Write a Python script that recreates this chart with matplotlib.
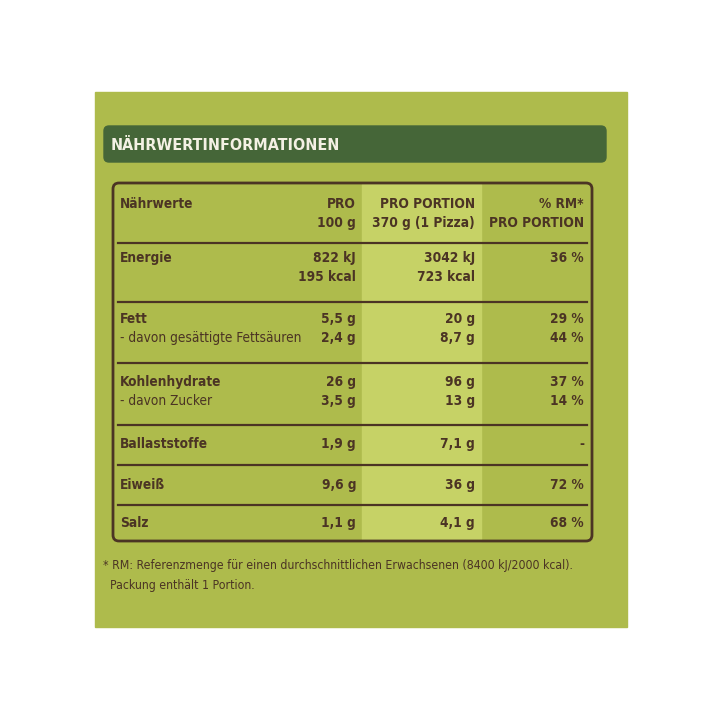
import matplotlib
matplotlib.use("Agg")
import matplotlib.pyplot as plt
from matplotlib.patches import Rectangle, FancyBboxPatch

labels = [["Nährwerte"], ["Energie"], ["Fett", "- davon gesättigte Fettsäuren"],
          ["Kohlenhydrate", "- davon Zucker"], ["Ballaststoffe"], ["Eiweiß"], ["Salz"]]
col100 = [["PRO", "100 g"], ["822 kJ", "195 kcal"], ["5,5 g", "2,4 g"], ["26 g", "3,5 g"],
          ["1,9 g"], ["9,6 g"], ["1,1 g"]]
colPortion = [["PRO PORTION", "370 g (1 Pizza)"], ["3042 kJ", "723 kcal"], ["20 g", "8,7 g"],
              ["96 g", "13 g"], ["7,1 g"], ["36 g"], ["4,1 g"]]
colRM = [["% RM*", "PRO PORTION"], ["36 %"], ["29 %", "44 %"], ["37 %", "14 %"], ["-"], ["72 %"], ["68 %"]]
title = "NÄHRWERTINFORMATIONEN"
foot = ["* RM: Referenzmenge für einen durchschnittlichen Erwachsenen (8400 kJ/2000 kcal).",
        "  Packung enthält 1 Portion."]

row_y = [204, 258, 319, 382, 444, 485, 523]
lines_y = [243, 302, 363, 425, 465, 505]
BR = "#4b3424"
FAM = ["DejaVu Sans"]

fig = plt.figure(figsize=(7.2, 7.2), dpi=100)
ax = fig.add_axes([0, 0, 1, 1])
ax.set_xlim(0, 720); ax.set_ylim(720, 0); ax.axis("off")
ax.add_patch(Rectangle((95, 92), 532, 535, color="#aebb4c"))
ax.add_patch(FancyBboxPatch((104, 126), 502, 36, boxstyle="round,pad=0,rounding_size=5", color="#456638"))
ax.text(111, 145, title, color="#f4f1e4", fontsize=11.5, fontweight="bold", va="center",
        family=FAM, fontstretch="condensed")
ax.add_patch(Rectangle((362, 184), 119, 357, color="#c6d266"))
ax.add_patch(FancyBboxPatch((113, 183), 479, 358, boxstyle="round,pad=0,rounding_size=6",
                            fill=False, ec=BR, lw=2))
for y in lines_y:
    ax.plot([118, 587], [y, y], color=BR, lw=1.6)

def put(x, y, lines, ha, bold_first=True):
    for i, s in enumerate(lines):
        bold = bold_first or i == 0
        ax.text(x, y + i * 19, s, color=BR, fontsize=9.8, ha=ha, va="center",
                fontweight="bold" if bold else "normal", family=FAM, fontstretch="condensed")

for i, y in enumerate(row_y):
    put(120, y, labels[i], "left", bold_first=False)
    put(356, y, col100[i], "right")
    put(475, y, colPortion[i], "right")
    put(584, y, colRM[i], "right")

for i, s in enumerate(foot):
    ax.text(103, 565 + i * 20, s, color=BR, fontsize=8.8, va="center", family=FAM,
            fontstretch="condensed")

fig.savefig("out.png", dpi=100)
